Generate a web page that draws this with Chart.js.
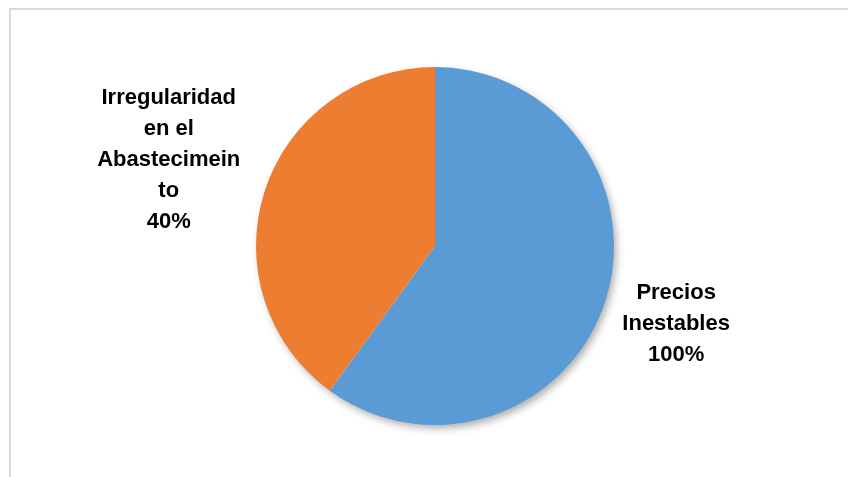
<!DOCTYPE html>
<html>
<head>
<meta charset="utf-8">
<script src="https://cdn.jsdelivr.net/npm/chart.js@4"></script>
<style>
  html, body { margin: 0; padding: 0; background: #fff; overflow: hidden; }
  #wrap { position: relative; width: 848px; height: 477px; }
  #frame { position: absolute; left: 9px; top: 8px; width: 900px; height: 520px; border: 2px solid #d9d9d9; box-sizing: border-box; }
  #myChart { position: absolute; left: 0; top: 0; }
</style>
</head>
<body>
<div id="wrap">
  <div id="frame"></div>
  <canvas id="myChart" width="848" height="477"></canvas>
</div>
<script>
// Datos de la gráfica
const categorias = ['Precios Inestables', 'Irregularidad en el Abastecimeinto'];
const valores = [60, 40];
const porcentajes = ['100%', '40%'];
const lineasEtiqueta = [
  ['Precios', 'Inestables'],
  ['Irregularidad', 'en el', 'Abastecimein', 'to']
];
const colores = ['#5B9BD5', '#ED7D31'];

const fuente = 'bold 22px "Liberation Sans", Arial, sans-serif';
const altoLinea = 31;

// Sombra suave bajo el pastel
const sombraPlugin = {
  id: 'sombra',
  beforeDatasetsDraw(chart) {
    const arc = chart.getDatasetMeta(0).data[0];
    if (!arc) return;
    const ctx = chart.ctx;
    ctx.save();
    ctx.shadowColor = 'rgba(0,0,0,0.35)';
    ctx.shadowBlur = 9;
    ctx.shadowOffsetX = 3;
    ctx.shadowOffsetY = 4;
    ctx.beginPath();
    ctx.arc(arc.x, arc.y, arc.outerRadius - 1, 0, Math.PI * 2);
    ctx.fillStyle = '#fff';
    ctx.fill();
    ctx.restore();
  }
};

// Etiquetas fuera del pastel
const etiquetasPlugin = {
  id: 'etiquetas',
  afterDatasetsDraw(chart) {
    const ctx = chart.ctx;
    const meta = chart.getDatasetMeta(0);
    ctx.save();
    ctx.font = fuente;
    ctx.fillStyle = '#000';
    ctx.textAlign = 'center';
    ctx.textBaseline = 'middle';
    meta.data.forEach((arc, i) => {
      const lineas = lineasEtiqueta[i].concat([porcentajes[i]]);
      const ancho = Math.max(...lineas.map(l => ctx.measureText(l).width));
      const alto = lineas.length * altoLinea;
      const medio = (arc.startAngle + arc.endAngle) / 2;
      const cx = Math.cos(medio), cy = Math.sin(medio);
      const dist = arc.outerRadius + 9 + Math.abs(cx) * ancho / 2 + Math.abs(cy) * alto / 2;
      const x = arc.x + cx * dist;
      const y = arc.y + cy * dist;
      lineas.forEach((l, j) => {
        ctx.fillText(l, x, y - alto / 2 + altoLinea / 2 + j * altoLinea);
      });
    });
    ctx.restore();
  }
};

const chart = document.getElementById('myChart');
const myChart = new Chart(chart, {
  type: 'pie',
  data: {
    labels: categorias,
    datasets: [{
      data: valores,
      backgroundColor: colores,
      borderWidth: 0
    }]
  },
  options: {
    responsive: false,
    animation: false,
    layout: { padding: { left: 256, right: 234, top: 67, bottom: 52 } },
    plugins: {
      legend: { display: false },
      tooltip: { enabled: false }
    }
  },
  plugins: [sombraPlugin, etiquetasPlugin]
});
</script>
</body>
</html>
